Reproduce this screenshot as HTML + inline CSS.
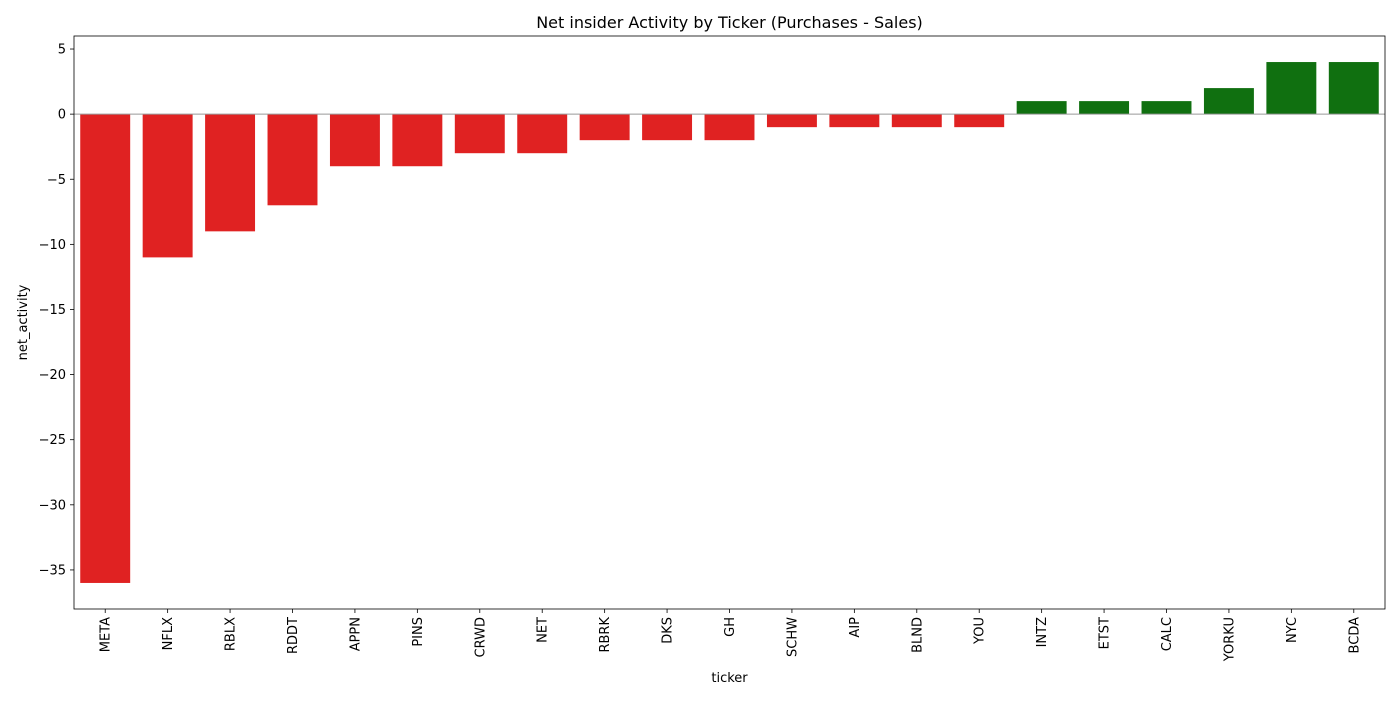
<!DOCTYPE html>
<html><head><meta charset="utf-8"><style>
body{margin:0;background:#fff;font-family:"Liberation Sans","DejaVu Sans",sans-serif;}
svg text{font-family:"DejaVu Sans","Liberation Sans",sans-serif;}
</style></head><body>
<svg id="chart" width="1400" height="700" xmlns="http://www.w3.org/2000/svg"></svg>
<script>
const categories=["META","NFLX","RBLX","RDDT","APPN","PINS","CRWD","NET","RBRK","DKS","GH","SCHW","AIP","BLND","YOU","INTZ","ETST","CALC","YORKU","NYC","BCDA"];
const values=[-36,-11,-9,-7,-4,-4,-3,-3,-2,-2,-2,-1,-1,-1,-1,1,1,1,2,4,4];
const yTicks=[5,0,-5,-10,-15,-20,-25,-30,-35];
const yTickLabels=["5","0","\u221210","\u221215","\u221220","\u221225","\u221230","\u221235"];
const L=74,R=1385,T=36,B=609,yMin=-38,yMax=6;
const svg=document.getElementById('chart');
const NS='http://www.w3.org/2000/svg';
const step=(R-L)/categories.length;
function xPos(i){return L+step*(i+0.5);}
function yPos(v){return T+(yMax-v)/(yMax-yMin)*(B-T);}
function mk(tag,attrs,txt){const e=document.createElementNS(NS,tag);for(const k in attrs)e.setAttribute(k,attrs[k]);if(txt!==undefined)e.textContent=txt;svg.appendChild(e);return e;}
values.forEach((v,i)=>{
  const y0=yPos(0),y1=yPos(v);
  const r=mk('rect',{x:xPos(i)-step*0.4,y:Math.min(y0,y1),width:step*0.8,height:Math.abs(y1-y0),fill:v<0?'#e02222':'#107010'});
  
  
  const t=mk('line',{x1:xPos(i),x2:xPos(i),y1:B,y2:B+4,stroke:'#000','stroke-width':0.8});
  
  
  const lb=mk('text',{x:0,y:0,'font-size':13,'text-anchor':'end',transform:`translate(${xPos(i)+4.5},${B+8}) rotate(-90)`},categories[i]);
  
  
});
const zl=mk('line',{x1:L,x2:R,y1:yPos(0),y2:yPos(0),stroke:'#999','stroke-width':1});


yTicks.forEach(v=>{
  const t=mk('line',{x1:L-4,x2:L,y1:yPos(v),y2:yPos(v),stroke:'#000','stroke-width':0.8});
  
  
  const lb=mk('text',{x:L-8,y:yPos(v)+4.5,'font-size':13,'text-anchor':'end'},v<0?'\u2212'+Math.abs(v):String(v));
  
  
});
const fr=mk('rect',{x:L,y:T,width:R-L,height:B-T,fill:'none',stroke:'#000','stroke-width':0.8});


const ti=mk('text',{x:(L+R)/2,y:28,'font-size':16,'text-anchor':'middle'},'Net insider Activity by Ticker (Purchases - Sales)');


const xt=mk('text',{x:(L+R)/2,y:682,'font-size':13,'text-anchor':'middle'},'ticker');


const yt=mk('text',{x:0,y:0,'font-size':13,'text-anchor':'middle',transform:`translate(27,${(T+B)/2}) rotate(-90)`},'net_activity');


</script>
</body></html>
